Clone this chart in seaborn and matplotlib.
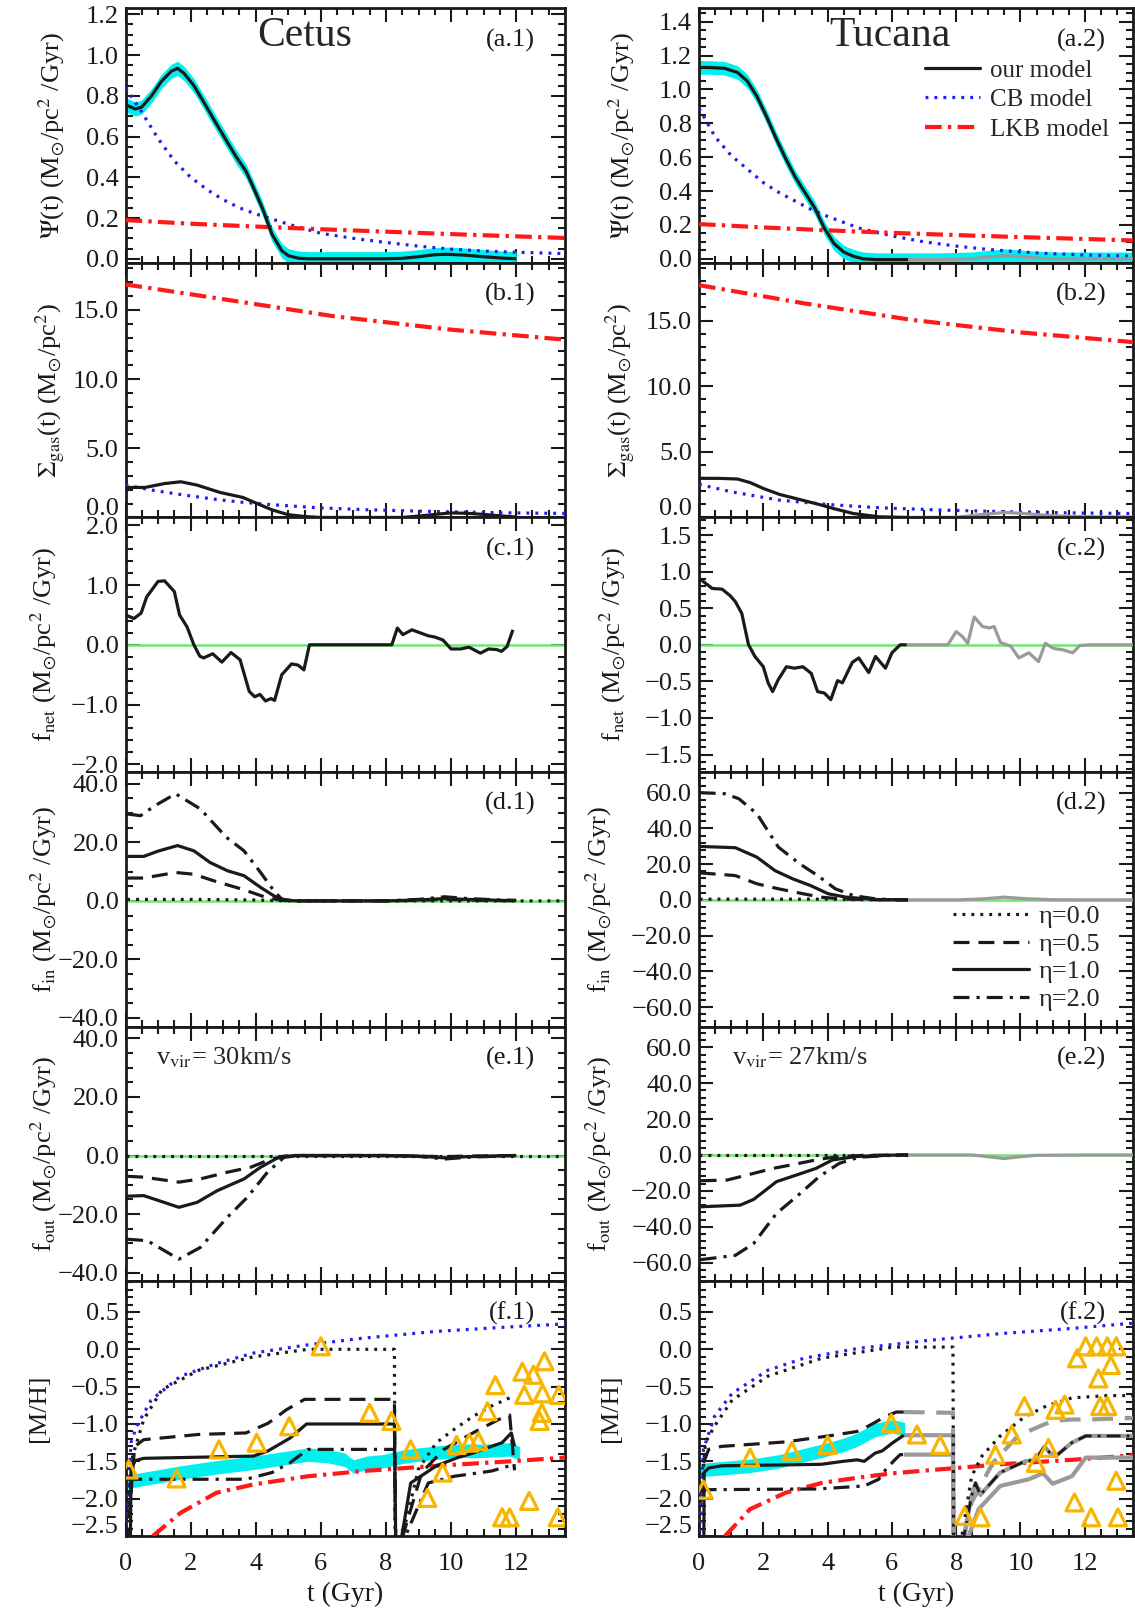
import numpy as np
import pandas as pd
import matplotlib
matplotlib.use("Agg")
import matplotlib.pyplot as plt
import seaborn as sns
from matplotlib.ticker import MultipleLocator, FuncFormatter
from matplotlib.lines import Line2D
from matplotlib.transforms import ScaledTranslation

# ------------------------------------------------------------------ data
# (a.1) Cetus SFH
a1_t = [0, 0.3, 0.5, 0.8, 1.1, 1.4, 1.6, 1.8, 2.1, 2.4, 2.8, 3.1, 3.4, 3.7, 3.9, 4.2, 4.5, 4.8, 5.0, 5.3, 5.6, 6.0, 7.0, 8.0, 8.5, 9.0, 9.5, 9.9, 10.4, 11.0, 11.6, 12.0]
a1_our = [0.756, 0.735, 0.745, 0.80, 0.87, 0.92, 0.935, 0.91, 0.85, 0.77, 0.66, 0.58, 0.50, 0.43, 0.36, 0.25, 0.12, 0.04, 0.015, 0.003, 0, 0, 0, 0, 0.002, 0.01, 0.02, 0.022, 0.018, 0.01, 0.003, 0.0]
a1_cb_t = [0, 0.5, 1.0, 1.5, 2.0, 2.5, 3.0, 3.5, 4.0, 5.0, 6.0, 7.0, 8.0, 9.0, 10.0, 11.0, 12.0, 13.5]
a1_cb = [0.84, 0.72, 0.59, 0.48, 0.40, 0.34, 0.29, 0.25, 0.22, 0.17, 0.125, 0.10, 0.08, 0.062, 0.047, 0.038, 0.032, 0.025]
lkb_t = [0, 2, 4, 6, 8, 10, 12, 13.5]
a1_lkb = [0.19, 0.172, 0.158, 0.145, 0.133, 0.121, 0.11, 0.102]

# (a.2) Tucana SFH
a2_t = [0, 0.3, 0.8, 1.2, 1.5, 1.8, 2.1, 2.4, 2.7, 3.0, 3.3, 3.6, 3.9, 4.2, 4.5, 4.8, 5.1, 5.5, 6.0, 6.5]
a2_our = [1.13, 1.13, 1.125, 1.10, 1.05, 0.96, 0.84, 0.71, 0.59, 0.48, 0.39, 0.30, 0.18, 0.09, 0.04, 0.015, 0.0, -0.005, -0.005, -0.005]
a2_g_t = [6.5, 7.5, 8.5, 9.0, 9.5, 10.0, 10.5, 11.0, 12.0, 13.5]
a2_gray = [-0.005, -0.005, 0.0, 0.01, 0.018, 0.012, 0.004, 0.0, 0.0, 0.0]
a2_cb = [0.89, 0.72, 0.61, 0.53, 0.45, 0.39, 0.34, 0.29, 0.25, 0.18, 0.135, 0.10, 0.075, 0.055, 0.04, 0.03, 0.022, 0.015]
a2_lkb = [0.205, 0.185, 0.168, 0.153, 0.14, 0.128, 0.117, 0.108]

# (b.1) Cetus gas surface density
b1_t = [0, 0.6, 1.2, 1.7, 2.2, 2.9, 3.6, 4.1, 4.5, 5.0, 5.5, 6.0, 8.5, 9.0, 9.5, 10.0, 10.5, 11.0, 11.5, 12.0]
b1_our = [2.17, 2.17, 2.45, 2.58, 2.34, 1.81, 1.45, 0.95, 0.55, 0.2, 0.07, 0.0, 0.0, 0.1, 0.22, 0.33, 0.3, 0.22, 0.12, 0.03]
b1_cb_t = [0, 0.8, 1.8, 2.8, 3.5, 4.4, 5.9, 7.4, 9.5, 11.5, 13.5]
b1_cb = [2.34, 1.98, 1.62, 1.3, 1.12, 0.94, 0.7, 0.56, 0.43, 0.34, 0.29]
b1_lkb_t = [0, 3.4, 6.4, 10.0, 13.5]
b1_lkb = [16.84, 15.63, 14.54, 13.57, 12.85]

# (b.2) Tucana gas surface density
b2_t = [0, 0.6, 1.2, 1.6, 2.0, 2.5, 3.0, 3.4, 3.8, 4.2, 4.8, 5.6, 6.5]
b2_our = [2.98, 2.98, 2.93, 2.65, 2.21, 1.76, 1.45, 1.2, 0.95, 0.67, 0.3, 0.05, 0.0]
b2_g_t = [6.5, 8.0, 8.7, 9.5, 10.0, 10.7, 11.5, 12.5, 13.5]
b2_gray = [0.0, 0.02, 0.2, 0.38, 0.32, 0.18, 0.08, 0.04, 0.04]
b2_cb_t = [0, 1.0, 2.5, 4.0, 5.6, 7.6, 9.7, 11.5, 13.5]
b2_cb = [2.52, 1.96, 1.32, 0.99, 0.74, 0.56, 0.43, 0.35, 0.3]
b2_lkb_t = [0, 3.3, 6.6, 10.0, 13.5]
b2_lkb = [17.7, 16.3, 15.06, 14.1, 13.36]

# (c.1) Cetus net flow
c1_t = [0, 0.26, 0.48, 0.65, 1.0, 1.2, 1.5, 1.66, 1.89, 2.1, 2.28, 2.4, 2.68, 2.96, 3.24, 3.52, 3.8, 3.97, 4.13, 4.3, 4.47, 4.58, 4.8, 5.1, 5.3, 5.48, 5.65, 8.18, 8.35, 8.52, 8.8, 9.1, 9.3, 9.5, 9.75, 10.0, 10.3, 10.55, 10.9, 11.15, 11.4, 11.55, 11.72, 11.9]
c1_net = [0.5, 0.44, 0.53, 0.8, 1.06, 1.07, 0.89, 0.5, 0.3, 0.0, -0.19, -0.22, -0.15, -0.29, -0.13, -0.25, -0.78, -0.87, -0.83, -0.94, -0.9, -0.93, -0.5, -0.32, -0.34, -0.42, 0.0, 0.0, 0.28, 0.17, 0.25, 0.19, 0.15, 0.13, 0.08, -0.07, -0.07, -0.04, -0.14, -0.07, -0.08, -0.11, -0.03, 0.25]

# (c.2) Tucana net flow
c2_t = [0.03, 0.41, 0.72, 0.97, 1.13, 1.33, 1.54, 1.74, 2.0, 2.15, 2.29, 2.46, 2.72, 2.97, 3.23, 3.49, 3.69, 3.9, 4.1, 4.31, 4.46, 4.77, 4.97, 5.28, 5.49, 5.8, 6.0, 6.26, 6.46]
c2_net = [0.9, 0.77, 0.76, 0.67, 0.59, 0.43, 0.0, -0.16, -0.3, -0.52, -0.64, -0.48, -0.3, -0.32, -0.3, -0.39, -0.64, -0.66, -0.75, -0.49, -0.52, -0.24, -0.18, -0.38, -0.16, -0.32, -0.11, 0.0, 0.0]
c2_g_t = [6.46, 7.74, 8.0, 8.2, 8.36, 8.56, 8.82, 9.03, 9.18, 9.38, 9.7, 9.95, 10.26, 10.56, 10.77, 11.03, 11.33, 11.62, 11.85, 12.15, 13.5]
c2_gray = [0, 0, 0.18, 0.11, 0.02, 0.38, 0.25, 0.23, 0.25, 0.03, -0.02, -0.18, -0.11, -0.23, 0.02, -0.05, -0.07, -0.11, -0.01, 0.0, 0.0]

# (d.1) Cetus inflow
d1_e20_t = [0.05, 0.46, 0.9, 1.54, 2.3, 3.1, 3.64, 4.15, 4.56, 4.8, 5.2, 6, 8, 9, 9.8, 10.5, 11.5, 12.0]
d1_e20 = [29.7, 29.1, 32.5, 36.6, 31.4, 21.7, 17.1, 9.7, 3.4, 0.6, 0, 0, 0, 0.5, 1.4, 0.8, 0.3, 0.2]
d1_e10_t = [0.05, 0.56, 1.0, 1.6, 2.1, 2.6, 3.13, 3.64, 4.15, 4.56, 4.9, 5.3, 8, 9, 9.8, 10.5, 11.5, 12.0]
d1_e10 = [15.2, 15.2, 17.0, 18.9, 17.1, 13.1, 10.3, 8.6, 4.6, 1.7, 0.2, 0, 0, 0.3, 0.8, 0.5, 0.2, 0.1]
d1_e05_t = [0.05, 0.56, 1.54, 2.1, 2.7, 3.64, 4.26, 4.77, 5.2, 8, 9, 9.8, 10.5, 11.5, 12.0]
d1_e05 = [7.8, 7.8, 9.7, 9.1, 6.9, 3.8, 1.4, 0.2, 0, 0, 0.2, 0.5, 0.3, 0.1, 0.05]
d1_e00_t = [0.05, 2.0, 4.0, 5.0, 13.5]
d1_e00 = [0.5, 0.5, 0.3, 0.0, 0.0]

# (d.2) Tucana inflow
d2_e20_t = [0.02, 0.8, 1.24, 1.8, 2.47, 3.13, 3.69, 4.24, 4.8, 5.47, 6.0, 6.5]
d2_e20 = [60, 59.4, 56.6, 48.2, 29.5, 20.2, 13.6, 6.2, 2.4, 0.6, 0.1, 0]
d2_e10_t = [0.02, 1.13, 1.8, 2.36, 2.91, 3.47, 4.02, 4.58, 5.47, 6.5]
d2_e10 = [29.9, 29.2, 23.9, 16.4, 11.8, 8.0, 3.4, 1.5, 0.2, 0]
d2_e05_t = [0.02, 1.13, 1.8, 2.47, 3.24, 3.8, 4.47, 5.5, 6.5]
d2_e05 = [15.1, 13.6, 9.0, 6.2, 3.4, 1.5, 0.5, 0.1, 0]
d2_e00_t = [0.02, 4.0, 5.0, 6.5]
d2_e00 = [0.4, 0.4, 0.1, 0.0]
d2_g_t = [6.5, 8.0, 8.8, 9.5, 10.2, 11.0, 12.0, 13.5]
d2_gray = [0, 0, 0.5, 1.5, 0.6, 0.1, 0, 0]

# (e.1) Cetus outflow
e1_e20_t = [0.05, 0.67, 1.64, 2.3, 3.13, 3.74, 4.36, 4.87, 5.3, 8, 9, 9.8, 10.5, 11.5, 12]
e1_e20 = [-28.6, -29.1, -35.4, -31.4, -21.1, -14.3, -5.7, -0.6, 0, 0, -0.3, -1.2, -0.6, -0.2, 0]
e1_e10_t = [0.05, 0.56, 1.64, 2.2, 2.82, 3.64, 4.15, 4.67, 5.2, 8, 9, 9.8, 10.5, 11.5, 12]
e1_e10 = [-13.9, -13.7, -17.7, -16.0, -12.0, -8.0, -4.0, -0.8, 0, 0, -0.2, -0.8, -0.4, -0.1, 0]
e1_e05_t = [0.05, 0.56, 1.64, 2.3, 3.13, 3.85, 4.36, 4.87, 5.2, 8, 9.8, 10.5, 12]
e1_e05 = [-7.1, -7.4, -9.1, -8.0, -5.7, -4.0, -1.7, -0.2, 0, 0, -0.4, -0.2, 0]
e1_e00_t = [0.0, 13.5]
e1_e00 = [0.0, 0.0]

# (e.2) Tucana outflow
e2_e20_t = [0.05, 1.13, 1.7, 2.41, 3.03, 3.74, 4.36, 4.97, 6.0, 6.5]
e2_e20 = [-58.4, -56, -49.4, -32.6, -23.3, -12.1, -4.7, -1.3, -0.1, 0]
e2_e10_t = [0.05, 1.28, 1.7, 2.41, 3.03, 3.64, 4.15, 4.87, 6.0, 6.5]
e2_e10 = [-28.9, -28, -24.8, -14.9, -11.2, -7.5, -2.8, -0.9, -0.1, 0]
e2_e05_t = [0.05, 0.87, 1.5, 2.3, 3.03, 3.74, 4.36, 5.2, 6.5]
e2_e05 = [-14.4, -14.0, -11.2, -7.5, -5.0, -2.4, -0.9, -0.2, 0]
e2_e00_t = [0.0, 6.5]
e2_e00 = [0.0, 0.0]
e2_g_t = [6.5, 8.5, 9.0, 9.5, 10.0, 10.5, 12.0, 13.5]
e2_gray = [0, 0, -1.0, -2.0, -1.0, -0.2, 0, 0]

# (f.1) Cetus metallicity
f1_cb_t = [0.02, 0.17, 0.34, 0.79, 1.69, 2.8, 3.93, 5.6, 7.3, 9.55, 11.8, 13.5]
f1_cb = [-2.45, -1.25, -1.03, -0.68, -0.36, -0.19, -0.05, 0.06, 0.15, 0.24, 0.30, 0.34]
f1_lkb_t = [0.84, 1.69, 2.8, 3.93, 5.6, 7.3, 9.55, 11.8, 13.5]
f1_lkb = [-2.5, -2.19, -1.92, -1.81, -1.70, -1.63, -1.56, -1.50, -1.45]
f1_e00_t = [0.02, 0.22, 0.56, 1.12, 2.25, 3.93, 5.6, 8.26, 8.28, 8.45, 9.0, 9.55, 10.1, 10.67, 11.24, 11.9]
f1_e00 = [-2.3, -1.43, -0.94, -0.54, -0.28, -0.10, 0.0, 0.0, -2.6, -2.6, -1.6, -1.25, -1.07, -0.9, -0.76, -0.63]
f1_e05_t = [0.05, 0.28, 0.56, 2.25, 3.7, 4.38, 4.94, 5.5, 8.26, 8.3, 8.45, 9.1, 9.78, 10.67, 11.46, 11.8, 11.95]
f1_e05 = [-2.6, -1.3, -1.21, -1.14, -1.12, -0.99, -0.81, -0.67, -0.67, -2.6, -2.6, -1.65, -1.34, -1.12, -0.94, -0.88, -1.62]
f1_e10_t = [0.15, 0.17, 0.3, 0.56, 3.93, 4.38, 5.05, 5.56, 8.26, 8.3, 8.45, 8.76, 9.55, 10.2, 10.67, 11.24, 11.57, 11.85, 11.95]
f1_e10 = [-2.6, -1.6, -1.49, -1.46, -1.43, -1.36, -1.19, -1.0, -1.0, -2.6, -2.6, -1.79, -1.56, -1.45, -1.39, -1.3, -1.25, -1.12, -1.3]
f1_e20_t = [0.02, 3.7, 4.5, 5.05, 5.6, 8.26, 8.3, 8.5, 9.3, 10.1, 11.24, 11.8, 11.95]
f1_e20 = [-1.74, -1.74, -1.65, -1.52, -1.34, -1.34, -2.6, -2.6, -1.79, -1.70, -1.63, -1.56, -1.6]
f1_obs_t = [0, 0.5, 1.69, 2.8, 3.93, 5.0, 5.6, 6.2, 6.74, 7.0, 7.4, 7.9, 8.5, 9.0, 10.1, 11.0, 11.8, 12.1]
f1_obs = [-1.78, -1.74, -1.65, -1.58, -1.52, -1.45, -1.41, -1.43, -1.48, -1.57, -1.52, -1.5, -1.44, -1.41, -1.36, -1.36, -1.34, -1.39]
f1_star_t = [0.1, 1.57, 2.87, 4.03, 5.03, 6.0, 7.5, 8.17, 8.76, 9.27, 9.74, 10.17, 10.56, 10.84, 11.12, 11.36, 11.57, 11.8, 12.19, 12.53, 12.87, 12.25, 12.81, 12.79, 12.72, 13.31, 12.4, 13.28]
f1_star = [-1.61, -1.73, -1.34, -1.25, -1.03, 0.04, -0.85, -0.96, -1.34, -1.99, -1.65, -1.28, -1.25, -1.23, -0.83, -0.48, -2.25, -2.25, -0.3, -0.34, -0.16, -0.61, -0.59, -0.85, -0.96, -0.61, -2.03, -2.25]

# (f.2) Tucana metallicity
f2_cb_t = [0.02, 0.14, 0.48, 1.03, 2.14, 3.26, 4.92, 7.14, 9.37, 11.6, 13.5]
f2_cb = [-2.45, -1.34, -0.9, -0.59, -0.28, -0.12, 0.01, 0.12, 0.21, 0.28, 0.35]
f2_lkb_t = [0.81, 1.59, 2.7, 3.81, 4.92, 6.03, 7.14, 9.37, 11.6, 13.5]
f2_lkb = [-2.5, -2.14, -1.92, -1.79, -1.72, -1.66, -1.62, -1.54, -1.48, -1.42]
f2_e00_t = [0.05, 0.2, 0.48, 1.03, 2.14, 3.81, 6.03, 7.9, 7.92, 8.14, 8.48, 8.8, 9.37, 10.14, 10.8, 11.6, 12.7, 13.5]
f2_e00 = [-2.05, -1.25, -1.03, -0.68, -0.36, -0.12, 0.03, 0.03, -2.6, -2.6, -1.7, -1.43, -1.16, -0.9, -0.76, -0.65, -0.62, -0.62]
f2_e05_t = [0.14, 0.3, 0.7, 2.7, 4.03, 4.92, 5.26, 5.8, 6.14, 6.37]
f2_e05 = [-1.52, -1.34, -1.3, -1.24, -1.16, -1.1, -1.03, -0.9, -0.84, -0.84]
f2_e05g_t = [6.37, 7.9, 7.92, 8.2, 8.48, 9.14, 9.92, 10.6, 11.0, 11.6, 12.1, 13.5]
f2_e05g = [-0.84, -0.85, -2.6, -2.6, -2.05, -1.52, -1.16, -1.03, -0.96, -0.94, -0.94, -0.92]
f2_e10_t = [0.15, 0.16, 0.3, 0.7, 3.81, 4.48, 4.92, 5.14, 5.48, 5.7, 6.03, 6.37]
f2_e10 = [-2.6, -1.65, -1.59, -1.56, -1.54, -1.5, -1.48, -1.5, -1.39, -1.36, -1.25, -1.15]
f2_up_t = [6.37, 7.9, 7.92, 8.2, 8.48, 8.6, 8.75, 9.37, 10.14, 10.47, 10.75, 10.9, 11.1, 11.6, 12.03, 13.5]
f2_up = [-1.15, -1.15, -2.6, -2.6, -1.96, -1.79, -1.95, -1.65, -1.5, -1.48, -1.3, -1.38, -1.43, -1.25, -1.16, -1.16]
f2_lo_t = [6.37, 7.9, 7.92, 8.3, 8.7, 9.37, 10.26, 10.7, 11.0, 11.6, 12.03, 13.5]
f2_lo = [-1.41, -1.41, -2.6, -2.6, -2.14, -1.83, -1.74, -1.66, -1.8, -1.7, -1.45, -1.45]
f2_e20_t = [0.05, 3.7, 5.14, 5.59, 5.81, 6.09, 6.26, 6.4]
f2_e20 = [-1.88, -1.87, -1.83, -1.74, -1.61, -1.48, -1.41, -1.41]
f2_obs_t = [0, 0.5, 1.6, 2.5, 3.81, 4.5, 4.92, 5.48, 6.03, 6.4]
f2_obs = [-1.62, -1.6, -1.56, -1.5, -1.36, -1.28, -1.21, -1.08, -1.03, -1.07]
f2_star_t = [0.14, 1.59, 2.89, 4.0, 5.98, 6.78, 7.5, 8.26, 8.76, 9.22, 9.73, 10.12, 10.48, 10.87, 11.09, 11.37, 11.68, 11.76, 12.03, 12.37, 12.7, 12.98, 12.81, 12.42, 12.48, 12.7, 12.2, 12.98, 13.03]
f2_star = [-1.88, -1.45, -1.36, -1.28, -0.99, -1.14, -1.28, -2.23, -2.25, -1.41, -1.14, -0.76, -1.52, -1.32, -0.81, -0.74, -2.05, -0.12, 0.04, 0.04, 0.04, 0.04, -0.21, -0.39, -0.76, -0.76, -2.25, -1.76, -2.25]

eta_labels = ["η=0.0", "η=0.5", "η=1.0", "η=2.0"]
model_labels = ["our model", "CB model", "LKB model"]

# ------------------------------------------------------------------ style
sns.set_theme(style="ticks")
plt.rcParams["font.family"] = ["Liberation Serif", "DejaVu Serif"]
plt.rcParams["mathtext.fontset"] = "stix"
plt.rcParams["axes.unicode_minus"] = True

FS = 19
BLUE = "#2020ee"
RED = "#ff1a1a"
GRAY = "#9a9a9a"
CYAN = "#00f0f0"
GREEN = "#70e870"
GOLD = "#f7b500"
LW = 2.3
DOT = (0.9, 1.9)
DASH = (5.0, 2.8)
DASHDOT = (5.0, 2.2, 1.0, 2.2)
RDASHDOT = (4.0, 1.5, 0.8, 1.5)

fig = plt.figure(figsize=(11.35, 16.14), dpi=100)
LX, RX = 125.5 / 1135, 699 / 1135
LW_AX, RW_AX = (565 - 125.5) / 1135, (1133 - 699) / 1135
TOP, BOT = 1 - 8.2 / 1614, 1 - 1536 / 1614
H = (TOP - BOT) / 6

axes = {}
for r in range(6):
    y0 = TOP - (r + 1) * H
    axes[(r, 0)] = fig.add_axes([LX, y0, LW_AX, H])
    axes[(r, 1)] = fig.add_axes([RX, y0, RW_AX, H])


def line(ax, t, v, color="k", lw=LW, dashes=None, z=3):
    sns.lineplot(x=t, y=v, ax=ax, color=color, lw=lw, estimator=None,
                 sort=False, legend=False, zorder=z)
    ln = ax.lines[-1]
    if dashes is not None:
        ln.set_dashes(dashes)
    ln.set_solid_capstyle("butt")
    ln.set_dash_capstyle("butt")
    return ln


def band(ax, t, v, hw):
    v = np.asarray(v, float)
    ax.fill_between(t, v - hw, v + hw, color=CYAN, lw=0, zorder=1)


def zero(ax):
    ax.axhline(0, color=GREEN, lw=1.8, zorder=2)


minus = FuncFormatter(lambda v, p: ("%.1f" % v).replace("-", "\u2212"))
xfmt = FuncFormatter(lambda v, p: "%d" % v)


def fmt(ax, ylim, ymaj, ymin, ylabel, labx, bottom):
    ax.set_xlim(0, 13.5)
    ax.set_ylim(*ylim)
    ax.xaxis.set_major_locator(MultipleLocator(2))
    ax.xaxis.set_minor_locator(MultipleLocator(0.5))
    ax.yaxis.set_major_locator(MultipleLocator(ymaj))
    ax.yaxis.set_minor_locator(MultipleLocator(ymin))
    ax.yaxis.set_major_formatter(minus)
    ax.xaxis.set_major_formatter(xfmt)
    ax.tick_params(which="both", direction="in", top=True, right=True,
                   width=1.5, color="k", labelsize=FS, labelcolor="k")
    ax.tick_params(which="major", length=10)
    ax.tick_params(which="minor", length=5)
    ax.tick_params(axis="y", pad=5)
    ax.tick_params(axis="x", pad=12, labelbottom=bottom)
    for s in ax.spines.values():
        s.set_linewidth(2)
        s.set_color("k")
    ax.set_ylabel(ylabel, fontsize=FS, color="k")
    ax.yaxis.set_label_coords(labx, 0.5)
    if bottom:
        ax.set_xlabel("t (Gyr)", fontsize=FS + 1, color="k", labelpad=5)
    else:
        ax.set_xlabel("")


def tag(ax, s, right):
    ax.text(0.938 if right else 0.932, 0.875, s, transform=ax.transAxes,
            ha="right", va="center", fontsize=FS, color="k")


# ---------------- row a
ax = axes[(0, 0)]
band(ax, a1_t, a1_our, 0.035)
line(ax, a1_cb_t, a1_cb, BLUE, dashes=DOT)
line(ax, lkb_t, a1_lkb, RED, lw=3, dashes=RDASHDOT)
line(ax, a1_t, a1_our, "k")
ax.text(0.408, 0.89, "Cetus", transform=ax.transAxes, ha="center", va="center", fontsize=30)
fmt(ax, (-0.02, 1.23), 0.2, 0.05, r"$\Psi$(t) (M$_{\odot}$/pc$^2$ /Gyr)", -0.132, False)
tag(ax, "(a.1)", False)

ax = axes[(0, 1)]
band(ax, a2_t + a2_g_t, a2_our + a2_gray, 0.04)
line(ax, a1_cb_t, a2_cb, BLUE, dashes=DOT)
line(ax, lkb_t, a2_lkb, RED, lw=3, dashes=RDASHDOT)
line(ax, a2_g_t, a2_gray, GRAY)
line(ax, a2_t, a2_our, "k")
ax.text(0.441, 0.89, "Tucana", transform=ax.transAxes, ha="center", va="center", fontsize=30)
fmt(ax, (-0.024, 1.48), 0.2, 0.05, r"$\Psi$(t) (M$_{\odot}$/pc$^2$ /Gyr)", -0.144, False)
tag(ax, "(a.2)", True)
h = [Line2D([], [], color="k", lw=LW),
     Line2D([], [], color=BLUE, lw=LW, dashes=DOT),
     Line2D([], [], color=RED, lw=3, dashes=RDASHDOT)]
ax.legend(h, model_labels, loc="upper left", bbox_to_anchor=(0.52, 0.80),
          frameon=False, fontsize=18, handlelength=2.2, handletextpad=0.4,
          labelspacing=0.28, borderpad=0, borderaxespad=0)

# ---------------- row b
ax = axes[(1, 0)]
line(ax, b1_cb_t, b1_cb, BLUE, dashes=DOT)
line(ax, b1_lkb_t, b1_lkb, RED, lw=3, dashes=RDASHDOT)
line(ax, b1_t, b1_our, "k")
fmt(ax, (0, 18.4), 5, 1, r"$\Sigma_{\rm gas}$(t) (M$_{\odot}$/pc$^2$)", -0.132, False)
tag(ax, "(b.1)", False)

ax = axes[(1, 1)]
line(ax, b2_cb_t, b2_cb, BLUE, dashes=DOT)
line(ax, b2_lkb_t, b2_lkb, RED, lw=3, dashes=RDASHDOT)
line(ax, b2_g_t, b2_gray, GRAY)
line(ax, b2_t, b2_our, "k")
fmt(ax, (0, 19.4), 5, 1, r"$\Sigma_{\rm gas}$(t) (M$_{\odot}$/pc$^2$)", -0.144, False)
tag(ax, "(b.2)", True)

# ---------------- row c
ax = axes[(2, 0)]
zero(ax)
line(ax, c1_t, c1_net, "k")
fmt(ax, (-2.13, 2.13), 1.0, 0.2, r"f$_{\rm net}$ (M$_{\odot}$/pc$^2$ /Gyr)", -0.151, False)
tag(ax, "(c.1)", False)

ax = axes[(2, 1)]
zero(ax)
line(ax, c2_g_t, c2_gray, GRAY)
line(ax, c2_t, c2_net, "k")
fmt(ax, (-1.74, 1.74), 0.5, 0.1, r"f$_{\rm net}$ (M$_{\odot}$/pc$^2$ /Gyr)", -0.163, False)
tag(ax, "(c.2)", True)

# ---------------- row d
ax = axes[(3, 0)]
zero(ax)
line(ax, d1_e00_t, d1_e00, "k", dashes=DOT)
line(ax, d1_e05_t, d1_e05, "k", dashes=DASH)
line(ax, d1_e10_t, d1_e10, "k")
line(ax, d1_e20_t, d1_e20, "k", dashes=DASHDOT)
fmt(ax, (-43, 44), 20, 5, r"f$_{\rm in}$ (M$_{\odot}$/pc$^2$ /Gyr)", -0.151, False)
tag(ax, "(d.1)", False)

ax = axes[(3, 1)]
zero(ax)
line(ax, d2_g_t, d2_gray, GRAY)
line(ax, d2_e00_t, d2_e00, "k", dashes=DOT)
line(ax, d2_e05_t, d2_e05, "k", dashes=DASH)
line(ax, d2_e10_t, d2_e10, "k")
line(ax, d2_e20_t, d2_e20, "k", dashes=DASHDOT)
fmt(ax, (-71, 71.5), 20, 4, r"f$_{\rm in}$ (M$_{\odot}$/pc$^2$ /Gyr)", -0.196, False)
tag(ax, "(d.2)", True)
h = [Line2D([], [], color="k", lw=LW, dashes=DOT),
     Line2D([], [], color="k", lw=LW, dashes=DASH),
     Line2D([], [], color="k", lw=LW),
     Line2D([], [], color="k", lw=LW, dashes=DASHDOT)]
ax.legend(h, eta_labels, loc="upper left", bbox_to_anchor=(0.585, 0.478),
          frameon=False, fontsize=19, handlelength=2.9, handletextpad=0.35,
          labelspacing=0.15, borderpad=0, borderaxespad=0)

# ---------------- row e
ax = axes[(4, 0)]
zero(ax)
line(ax, e1_e00_t, e1_e00, "k", dashes=DOT)
line(ax, e1_e05_t, e1_e05, "k", dashes=DASH)
line(ax, e1_e10_t, e1_e10, "k")
line(ax, e1_e20_t, e1_e20, "k", dashes=DASHDOT)
ax.text(0.07, 0.878, r"v$_{\rm vir}$= 30km/s", transform=ax.transAxes, ha="left", va="center", fontsize=FS)
fmt(ax, (-43, 44), 20, 5, r"f$_{\rm out}$ (M$_{\odot}$/pc$^2$ /Gyr)", -0.151, False)
tag(ax, "(e.1)", False)

ax = axes[(4, 1)]
zero(ax)
line(ax, e2_g_t, e2_gray, GRAY)
line(ax, e2_e00_t, e2_e00, "k", dashes=DOT)
line(ax, e2_e05_t, e2_e05, "k", dashes=DASH)
line(ax, e2_e10_t, e2_e10, "k")
line(ax, e2_e20_t, e2_e20, "k", dashes=DASHDOT)
ax.text(0.076, 0.878, r"v$_{\rm vir}$= 27km/s", transform=ax.transAxes, ha="left", va="center", fontsize=FS)
fmt(ax, (-70.5, 71.5), 20, 4, r"f$_{\rm out}$ (M$_{\odot}$/pc$^2$ /Gyr)", -0.196, False)
tag(ax, "(e.2)", True)

# ---------------- row f
ax = axes[(5, 0)]
band(ax, f1_obs_t, f1_obs, 0.09)
line(ax, f1_cb_t, f1_cb, BLUE, dashes=DOT)
line(ax, f1_lkb_t, f1_lkb, RED, lw=3, dashes=RDASHDOT)
line(ax, f1_e00_t, f1_e00, "k", dashes=DOT)
line(ax, f1_e05_t, f1_e05, "k", dashes=DASH)
line(ax, f1_e10_t, f1_e10, "k")
line(ax, f1_e20_t, f1_e20, "k", dashes=DASHDOT)
sns.scatterplot(x=f1_star_t, y=f1_star, ax=ax, marker="^", s=150, facecolors="none",
                edgecolor=GOLD, linewidth=2.3, legend=False, zorder=5)
fmt(ax, (-2.5, 0.91), 0.5, 0.1, "[M/H]", -0.172, True)
tag(ax, "(f.1)", False)

ax = axes[(5, 1)]
band(ax, f2_obs_t, f2_obs, 0.09)
line(ax, f2_cb_t, f2_cb, BLUE, dashes=DOT)
line(ax, f2_lkb_t, f2_lkb, RED, lw=3, dashes=RDASHDOT)
line(ax, f2_e05g_t, f2_e05g, GRAY, lw=3, dashes=DASH)
line(ax, f2_up_t, f2_up, GRAY, lw=3)
line(ax, f2_lo_t, f2_lo, GRAY, lw=3)
line(ax, f2_up_t[3:], f2_up[3:], "k", lw=2.0, dashes=DASHDOT)
line(ax, f2_e00_t, f2_e00, "k", dashes=DOT)
line(ax, f2_e05_t, f2_e05, "k", dashes=DASH)
line(ax, f2_e10_t, f2_e10, "k")
line(ax, f2_e20_t, f2_e20, "k", dashes=DASHDOT)
sns.scatterplot(x=f2_star_t, y=f2_star, ax=ax, marker="^", s=150, facecolors="none",
                edgecolor=GOLD, linewidth=2.3, legend=False, zorder=5)
fmt(ax, (-2.5, 0.91), 0.5, 0.1, "[M/H]", -0.177, True)
tag(ax, "(f.2)", True)

# raise the lowest y tick label where it sits on the bottom spine (as in the original)
fig.canvas.draw()
for key in [(1, 0), (1, 1), (5, 0), (5, 1)]:
    ax = axes[key]
    y0 = ax.get_ylim()[0]
    for tick in ax.yaxis.get_major_ticks():
        if abs(tick.get_loc() - y0) < 1e-6:
            lab = tick.label1
            lab.set_transform(lab.get_transform() + ScaledTranslation(0, 8 / 72, fig.dpi_scale_trans))

fig.savefig("out.png", dpi=100, facecolor="white")
